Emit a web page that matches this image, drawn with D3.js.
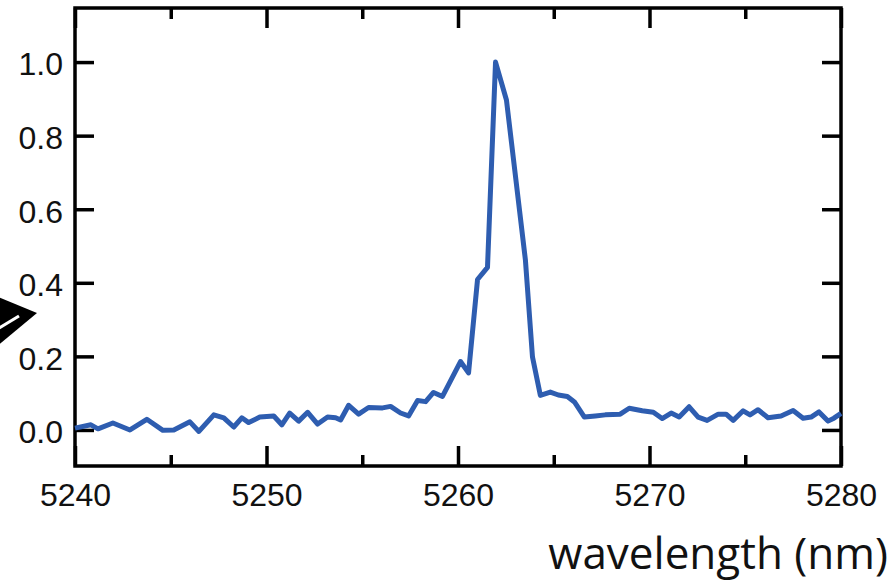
<!DOCTYPE html>
<html>
<head>
<meta charset="utf-8">
<script src="https://cdn.jsdelivr.net/npm/d3@7"></script>
<style>
  html, body { margin: 0; padding: 0; background: #fff; }
  svg { display: block; }
</style>
</head>
<body>
<svg id="chart" width="894" height="587"></svg>
<script>
// Emission spectrum: normalized intensity vs wavelength
const wavelength = [
  5240.00, 5240.83, 5241.20, 5241.98, 5242.87, 5243.75, 5244.59, 5245.16,
  5246.00, 5246.47, 5247.25, 5247.77, 5248.29, 5248.71, 5249.07, 5249.65,
  5250.38, 5250.80, 5251.21, 5251.68, 5252.15, 5252.67, 5253.19, 5253.61,
  5253.87, 5254.29, 5254.81, 5255.33, 5256.06, 5256.48, 5257.00, 5257.42,
  5257.89, 5258.31, 5258.72, 5259.19, 5260.13, 5260.55, 5261.02, 5261.54,
  5261.96, 5262.53, 5263.52, 5263.89, 5264.30, 5264.82, 5265.24, 5265.71,
  5266.08, 5266.60, 5267.17, 5267.69, 5268.47, 5268.94, 5269.62, 5270.20,
  5270.66, 5271.13, 5271.55, 5272.07, 5272.54, 5273.01, 5273.59, 5274.00,
  5274.37, 5274.89, 5275.25, 5275.67, 5276.19, 5276.87, 5277.50, 5278.02,
  5278.44, 5278.85, 5279.32, 5279.63, 5280.00
];
const intensity = [
  0.005, 0.014, 0.003, 0.019, 0.000, 0.029, -0.001, 0.000,
  0.022, -0.004, 0.041, 0.033, 0.008, 0.033, 0.020, 0.035,
  0.038, 0.014, 0.046, 0.024, 0.048, 0.016, 0.035, 0.033,
  0.027, 0.067, 0.043, 0.061, 0.060, 0.064, 0.046, 0.038,
  0.080, 0.077, 0.102, 0.091, 0.186, 0.155, 0.409, 0.442,
  1.000, 0.897, 0.462, 0.198, 0.094, 0.103, 0.095, 0.091,
  0.076, 0.035, 0.038, 0.041, 0.043, 0.059, 0.052, 0.048,
  0.031, 0.046, 0.035, 0.063, 0.035, 0.026, 0.043, 0.043,
  0.026, 0.052, 0.041, 0.055, 0.033, 0.038, 0.053, 0.032,
  0.035, 0.049, 0.024, 0.032, 0.045
];
const xMajorTicks = [5240, 5250, 5260, 5270, 5280];
const xMinorTicks = [5245, 5255, 5265, 5275];
const yTicks = [0, 0.2, 0.4, 0.6, 0.8, 1.0];
const xLabel = "wavelength (nm)";

const svg = d3.select("#chart");
const plotL = 75, plotR = 841, plotT = 8, plotB = 466;

const x = d3.scaleLinear().domain([5240, 5280]).range([plotL, plotR]);
const y = d3.scaleLinear().domain([-0.098, 1.147]).range([plotB, plotT]);

const tickFont = "'Liberation Sans', Arial, sans-serif";
const axisW = 3.5;

function styleAxis(g) {
  g.select(".domain").remove();
  g.selectAll(".tick line").attr("stroke", "#000").attr("stroke-width", axisW);
  g.selectAll(".tick text")
    .attr("fill", "#111")
    .style("font-family", tickFont)
    .style("font-size", "32px");
}

// bottom axis: major (labelled) and minor ticks, pointing inward
svg.append("g").attr("transform", `translate(0,${plotB})`)
  .call(d3.axisBottom(x).tickValues(xMajorTicks).tickSize(-20).tickPadding(17)
    .tickFormat(d3.format("d")))
  .call(styleAxis);
svg.append("g").attr("transform", `translate(0,${plotB})`)
  .call(d3.axisBottom(x).tickValues(xMinorTicks).tickSize(-11).tickFormat(""))
  .call(styleAxis);

// top axis: mirrored ticks, no labels
svg.append("g").attr("transform", `translate(0,${plotT})`)
  .call(d3.axisTop(x).tickValues(xMajorTicks).tickSize(-20).tickFormat(""))
  .call(styleAxis);
svg.append("g").attr("transform", `translate(0,${plotT})`)
  .call(d3.axisTop(x).tickValues(xMinorTicks).tickSize(-11).tickFormat(""))
  .call(styleAxis);

// left axis with labels
svg.append("g").attr("transform", `translate(${plotL},0)`)
  .call(d3.axisLeft(y).tickValues(yTicks).tickSize(-19).tickPadding(12)
    .tickFormat(d3.format(".1f")))
  .call(styleAxis)
  .call(g => g.selectAll(".tick text").attr("dy", "0.4em"));

// right axis, ticks only
svg.append("g").attr("transform", `translate(${plotR},0)`)
  .call(d3.axisRight(y).tickValues(yTicks).tickSize(-19).tickFormat(""))
  .call(styleAxis);

// frame
svg.append("rect")
  .attr("x", plotL).attr("y", plotT)
  .attr("width", plotR - plotL).attr("height", plotB - plotT)
  .attr("fill", "none").attr("stroke", "#000").attr("stroke-width", axisW);

// spectrum line
const line = d3.line()
  .x((d, i) => x(wavelength[i]))
  .y(d => y(d));
svg.append("path")
  .datum(intensity)
  .attr("d", line)
  .attr("fill", "none")
  .attr("stroke", "#2e5db0")
  .attr("stroke-width", 5)
  .attr("stroke-linejoin", "round");

// x-axis title
svg.append("text")
  .attr("x", 888).attr("y", 569)
  .attr("text-anchor", "end")
  .style("font-family", "'Open Sans', 'Noto Sans', sans-serif")
  .style("font-size", "44px")
  .attr("fill", "#111")
  .text(xLabel);

// outlined pointer arrow at the left margin
const arrow = svg.append("g");
arrow.append("path")
  .attr("d", "M-4,296 L37,313 L-4,347 Z")
  .attr("fill", "#000");
arrow.append("path")
  .attr("d", "M-4,330 L19,316")
  .attr("stroke", "#fff").attr("stroke-width", 3).attr("fill", "none");
</script>
</body>
</html>
